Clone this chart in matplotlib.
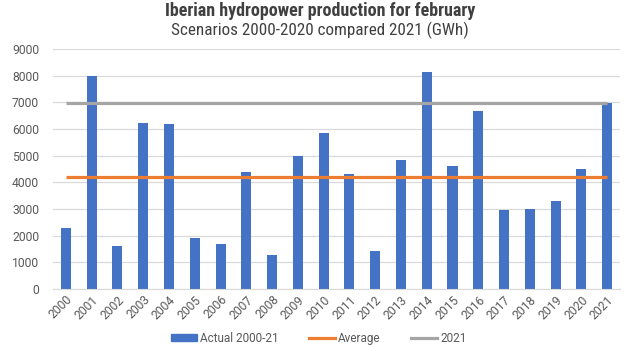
import matplotlib
matplotlib.use("Agg")
import matplotlib.pyplot as plt
from matplotlib.patches import Patch
from matplotlib.lines import Line2D

years = [str(y) for y in range(2000, 2022)]
actual = [2300, 7970, 1630, 6240, 6170, 1930, 1670, 4400, 1290, 5000, 5860,
          4320, 1440, 4850, 8120, 4620, 6690, 2980, 3010, 3310, 4510, 6990]
average = [4210] * len(years)
ref_2021 = [6990] * len(years)

plt.rcParams['font.family'] = ['Roboto', 'DejaVu Sans']
cond = ['Roboto Condensed', 'Roboto', 'DejaVu Sans']

BLUE, ORANGE, GREY = '#4472C4', '#ED7D31', '#A5A5A5'
TXT = '#595959'

fig = plt.figure(figsize=(6.31, 3.46), dpi=100)
ax = fig.add_axes([0.084, 0.1647, 0.8986, 0.6937])

x = list(range(len(years)))
ax.bar(x, actual, width=0.39, color=BLUE, zorder=2)
ax.plot(x, average, color=ORANGE, lw=2.3, zorder=3, solid_capstyle='butt')
ax.plot(x, ref_2021, color=GREY, lw=2.3, zorder=3, solid_capstyle='butt')

ax.set_xlim(-0.5, len(years) - 0.5)
ax.set_ylim(0, 9000)
ax.set_yticks(range(0, 9001, 1000))
ax.set_xticks(x)
ax.set_xticklabels(years, rotation=45, ha='right', rotation_mode='anchor')
ax.grid(axis='y', color='#D9D9D9', lw=0.9, zorder=0)
for s in ['top', 'right', 'left']:
    ax.spines[s].set_visible(False)
ax.spines['bottom'].set_color('#D9D9D9')
ax.tick_params(axis='both', length=0, colors=TXT, labelsize=8.7)
ax.tick_params(axis='y', pad=10)
ax.tick_params(axis='x', pad=3)

fig.text(0.508, 0.968, 'Iberian hydropower production for february', ha='center', va='center',
         fontsize=13, fontweight='bold', color='#404040', family=cond)
fig.text(0.507, 0.913, 'Scenarios 2000-2020 compared 2021 (GWh)', ha='center', va='center',
         fontsize=12.3, color='#404040', family=cond)

handles = [Patch(color=BLUE),
           Line2D([], [], color=ORANGE, lw=2.3),
           Line2D([], [], color=GREY, lw=2.3)]
fig.legend(handles, ['Actual 2000-21', 'Average', '2021'], loc='center',
           bbox_to_anchor=(0.505, 0.023), ncol=3, frameon=False, fontsize=8.5,
           labelcolor=TXT, handlelength=2.2, handleheight=0.55, handletextpad=0.25,
           columnspacing=2.6)

fig.savefig('out.png', dpi=100)
